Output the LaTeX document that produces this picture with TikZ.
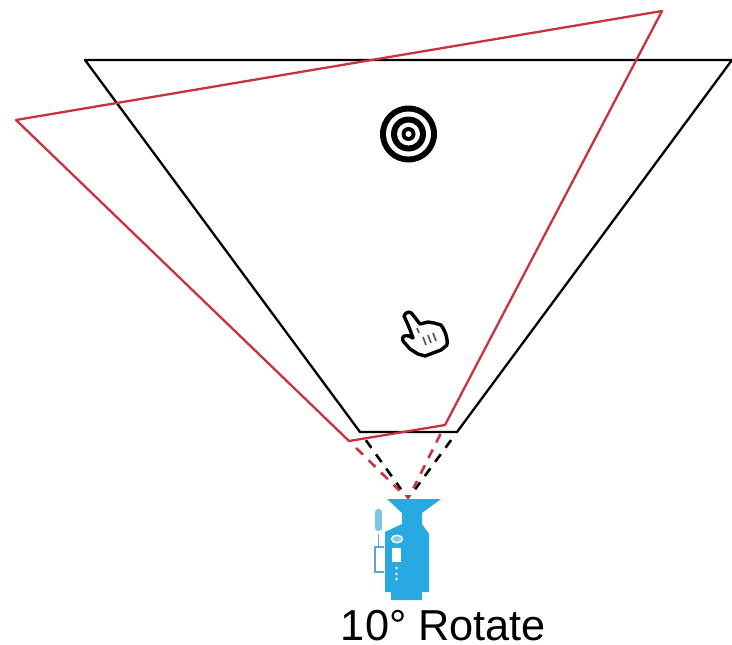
\documentclass[tikz,border=0pt]{standalone}
\usepackage{fontspec}
\setmainfont{Liberation Sans}
\definecolor{fovred}{HTML}{C9323F}
\definecolor{camblue}{HTML}{29A9E1}
\definecolor{wandblue}{HTML}{7CC8EC}
\definecolor{stemblue}{HTML}{5FA5CC}
\tikzset{
  fovline/.style={line width=2.3pt, line join=round},
  rayline/.style={line width=2.6pt, dash pattern=on 9.5pt off 8pt, shorten >=12pt, shorten <=10pt},
}
\begin{document}
\begin{tikzpicture}[x=1pt, y=-1pt]
  \useasboundingbox (0,0) rectangle (732,645);

  % Frustum corners
  \coordinate (BA) at (85, 60);    % black far left
  \coordinate (BB) at (732, 60);   % black far right
  \coordinate (BC) at (457, 432);  % black near right
  \coordinate (BD) at (360, 432);  % black near left
  \coordinate (RA) at (16, 120);   % red far left
  \coordinate (RB) at (662, 11);   % red far right
  \coordinate (RC) at (445, 425);  % red near right
  \coordinate (RD) at (349, 441);  % red near left
  \coordinate (Lens) at (408, 499);

  % Dashed rays to the lens
  \draw[rayline, black]   (BD) -- (Lens);
  \draw[rayline, black]   (BC) -- (Lens);
  \draw[rayline, fovred]  (RD) -- (Lens);
  \draw[rayline, fovred]  (RC) -- (Lens);
  \fill[fovred] (404.5, 495) -- (411.5, 495) -- (408, 500) -- cycle;

  % Frustums
  \draw[fovline, black]  (BA) -- (BB) -- (BC) -- (BD) -- cycle;
  \draw[fovline, fovred] (RA) -- (RB) -- (RC) -- (RD) -- cycle;

  % Target
  \fill[black] (408.5, 134) circle (28.5);
  \fill[white] (408.5, 134) circle (22.5);
  \fill[black] (408.5, 134) circle (17.5);
  \fill[white] (408.5, 134) circle (11.5);
  \fill[black] (408.5, 134) circle (7);
  \fill[white] (408.5, 134) circle (3);

  % Hand cursor
  \draw[line width=3.4pt, line join=round, fill=white]
    (404, 316) .. controls (406, 311) and (411, 311) .. (413, 315)
    -- (420, 324) -- (428, 322) -- (434, 323) -- (441, 325)
    .. controls (446, 332) and (448, 340) .. (447, 345)
    -- (441, 350) -- (425, 356) -- (418, 354) -- (410, 349)
    -- (403, 341)
    .. controls (401, 336) and (405, 335) .. (409, 336)
    -- (413, 338) -- (409, 327) -- cycle;
  \draw[line width=1.7pt, gray!70!black] (417, 328) -- (419, 333);
  \draw[line width=1.7pt, gray!70!black] (423, 337) -- (426, 345);
  \draw[line width=1.7pt, gray!70!black] (428, 335) -- (431, 343);
  \draw[line width=1.7pt, gray!70!black] (433, 333) -- (436, 341);

  % Camera body
  \fill[camblue] (387, 499) -- (441, 499) -- (422, 513) -- (422, 524)
    -- (429, 534) -- (429, 592) -- (422, 592) -- (422, 600) -- (391, 600)
    -- (391, 592) -- (385, 592) -- (385, 532) -- (402, 524) -- (402, 513) -- cycle;
  \draw[line width=1.3pt, white, fill=camblue!55!white] (397, 539) ellipse (5.5 and 3.8);
  \fill[white] (392, 548) rectangle (401, 562);
  \foreach \dy in {568, 574, 579}
    \fill[white] (396.5, \dy) circle (1.4);

  % Wand on the side
  \fill[wandblue, rounded corners=3pt] (375, 509) rectangle (382, 531);
  \draw[line width=1.3pt, stemblue] (378.5, 534) -- (378.5, 547);
  \draw[line width=1.3pt, stemblue] (384, 547) -- (375, 547) -- (375, 572) -- (384, 572);

  % Caption
  \node[font=\fontsize{43.3}{46}\selectfont, inner sep=0pt] (caption) at (443.5, 625.5) {10° Rotate};
\end{tikzpicture}
\end{document}
